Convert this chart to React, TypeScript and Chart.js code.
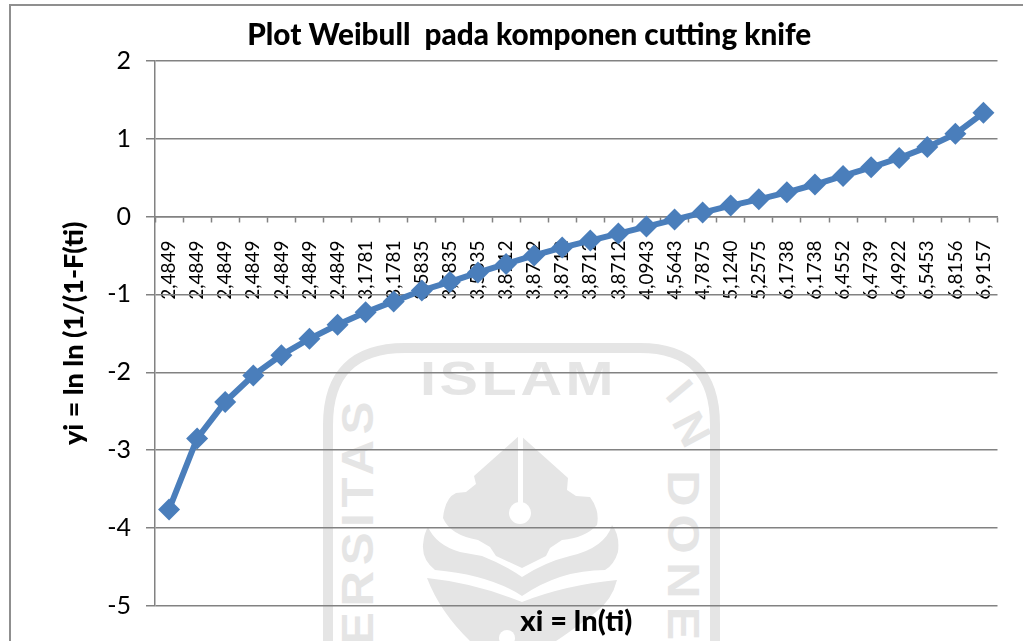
import React, { useEffect, useRef } from "react";
import { Chart, registerables } from "chart.js";

Chart.register(...registerables);

const categories = [
  "2,4849", "2,4849", "2,4849", "2,4849", "2,4849", "2,4849", "2,4849",
  "3,1781", "3,1781", "3,5835", "3,5835", "3,5835",
  "3,8712", "3,8712", "3,8712", "3,8712", "3,8712",
  "4,0943", "4,5643", "4,7875", "5,1240", "5,2575",
  "6,1738", "6,1738", "6,4552", "6,4739", "6,4922", "6,5453", "6,8156", "6,9157",
];
const yiValues = [
  -3.76, -2.85, -2.38, -2.04, -1.78, -1.57, -1.39, -1.23, -1.09, -0.95,
  -0.84, -0.72, -0.61, -0.5, -0.4, -0.31, -0.22, -0.13, -0.04, 0.05,
  0.14, 0.22, 0.31, 0.41, 0.52, 0.63, 0.75, 0.89, 1.06, 1.33,
];
const chartTitle = "Plot Weibull  pada komponen cutting knife";
const xTitle = "xi = ln(ti)";
const yTitle = "yi = ln ln (1/(1-F(ti)";

const FONT = "Lato, Carlito, Calibri, sans-serif";
const AXIS = "#828282";
const BLUE = "#4a7ebb";
const WM = "#e5e5e5";

const titleShift: any = {
  id: "titleShift",
  afterLayout(chart: any) {
    if (chart.titleBlock) chart.titleBlock.left += 3;
  },
};

function Watermark() {
  const letter = { fontFamily: "Liberation Sans, sans-serif", fontWeight: 700, fill: WM } as const;
  return (
    <svg width={1023} height={641} style={{ position: "absolute", left: 0, top: 0 }}>
      <path
        d="M328 641 L328 425 Q328 348 405 348 L640 348 Q715 348 715 425 L715 641"
        fill="none"
        stroke={WM}
        strokeWidth={10}
      />
      <text transform="translate(420,395) scale(1.2,1)" fontSize={48} letterSpacing={3} style={letter}>ISLAM</text>
      <text transform="translate(373,645) rotate(-90) scale(1.12,1)" fontSize={44} letterSpacing={5} style={letter}>ERSITAS</text>
      <text transform="translate(664,396) rotate(50)" fontSize={44} style={letter}>I</text>
      <text transform="translate(671,422) rotate(62)" fontSize={44} style={letter}>N</text>
      <text transform="translate(668,470) rotate(90) scale(1.15,1)" fontSize={44} letterSpacing={7} style={letter}>DONE</text>
      <path
        d="M520 435 L568 478 L567 490 L576 496 L590 497 Q600 510 597 525 Q585 538 562 540 L550 548 L546 556 L522 568 L496 556 L490 547 L478 540 Q450 535 443 518 Q445 498 456 493 L466 492 L476 484 L474 476 Z"
        fill={WM}
      />
      <circle cx={520} cy={513} r={11} fill="#ffffff" />
      <rect x={518} y={435} width={5} height={72} fill="#ffffff" />
      <path
        d="M428 527 Q436 545 460 552 L482 556 Q505 565 522 577 Q545 562 570 556 Q605 548 612 525 Q620 535 618 552 Q614 565 605 570 Q560 570 522 596 Q490 575 435 570 Q422 560 423 545 Q424 533 428 527 Z"
        fill={WM}
      />
      <path
        d="M427 578 Q475 583 522 602 Q565 585 617 580 Q612 600 596 612 Q570 632 556 641 L470 641 Q440 612 427 578 Z"
        fill={WM}
      />
      <circle cx={507} cy={638} r={8} fill="#ffffff" />
    </svg>
  );
}

export default function App() {
  const ref = useRef<HTMLCanvasElement>(null);

  useEffect(() => {
    if (!ref.current) return;
    const chart = new Chart(ref.current, {
      type: "line",
      data: {
        labels: categories,
        datasets: [
          {
            data: yiValues,
            borderColor: BLUE,
            backgroundColor: BLUE,
            borderWidth: 6,
            pointStyle: "rectRot",
            pointRadius: 11,
            pointBorderWidth: 0,
            pointBackgroundColor: BLUE,
            tension: 0,
            clip: false,
          },
        ],
      },
      options: {
        animation: false,
        responsive: false,
        layout: { padding: { left: 58, right: 25.5, top: 0, bottom: 0 } },
        plugins: {
          legend: { display: false },
          tooltip: { enabled: false },
          title: {
            display: true,
            text: chartTitle,
            color: "#000000",
            font: { family: FONT, size: 29.7, weight: 900 },
            padding: { top: 18, bottom: 7 },
          },
        },
        scales: {
          x: {
            type: "category",
            position: { y: 0 },
            offset: true,
            border: { display: true, color: AXIS, width: 1.5 },
            grid: {
              offset: true,
              drawOnChartArea: false,
              drawTicks: true,
              tickLength: 5,
              tickColor: AXIS,
              tickWidth: 1.5,
            },
            ticks: {
              autoSkip: false,
              minRotation: 90,
              maxRotation: 90,
              padding: 19,
              color: "#000000",
              font: { family: FONT, size: 19 },
            },
            afterFit(scale: any) {
              scale.paddingLeft = 0;
              scale.paddingRight = 0;
            },
          } as any,
          xTitleAxis: {
            type: "category",
            position: "bottom",
            labels: [],
            border: { display: false },
            grid: { display: false },
            ticks: { display: false },
            title: {
              display: true,
              text: xTitle,
              color: "#000000",
              font: { family: FONT, size: 29, weight: 900 },
              padding: { top: 0, bottom: 2 },
            },
            afterFit(scale: any) {
              scale.height = 35;
            },
          } as any,
          y: {
            min: -5,
            max: 2,
            border: { display: true, color: AXIS, width: 1.5 },
            grid: {
              color: AXIS,
              lineWidth: 1.5,
              tickColor: AXIS,
              tickLength: 9,
              z: 0,
            },
            ticks: {
              stepSize: 1,
              padding: 15,
              color: "#000000",
              font: { family: FONT, size: 25 },
            },
            title: {
              display: true,
              text: yTitle,
              color: "#000000",
              font: { family: FONT, size: 27, weight: 900 },
              padding: { top: 0, bottom: 0 },
            },
            afterFit(scale: any) {
              scale.width = 97;
            },
          },
        },
      },
      plugins: [titleShift],
    });
    return () => chart.destroy();
  }, []);

  return (
    <div style={{ position: "absolute", left: 0, top: 0, width: 1023, height: 641, overflow: "hidden", background: "#ffffff" }}>
      <Watermark />
      <div
        style={{
          position: "absolute",
          left: 9,
          top: 4,
          width: 1100,
          height: 800,
          border: "2px solid #8f8f8f",
          boxSizing: "border-box",
        }}
      />
      <canvas ref={ref} width={1023} height={641} style={{ position: "absolute", left: 0, top: 0, display: "block" }} />
    </div>
  );
}
